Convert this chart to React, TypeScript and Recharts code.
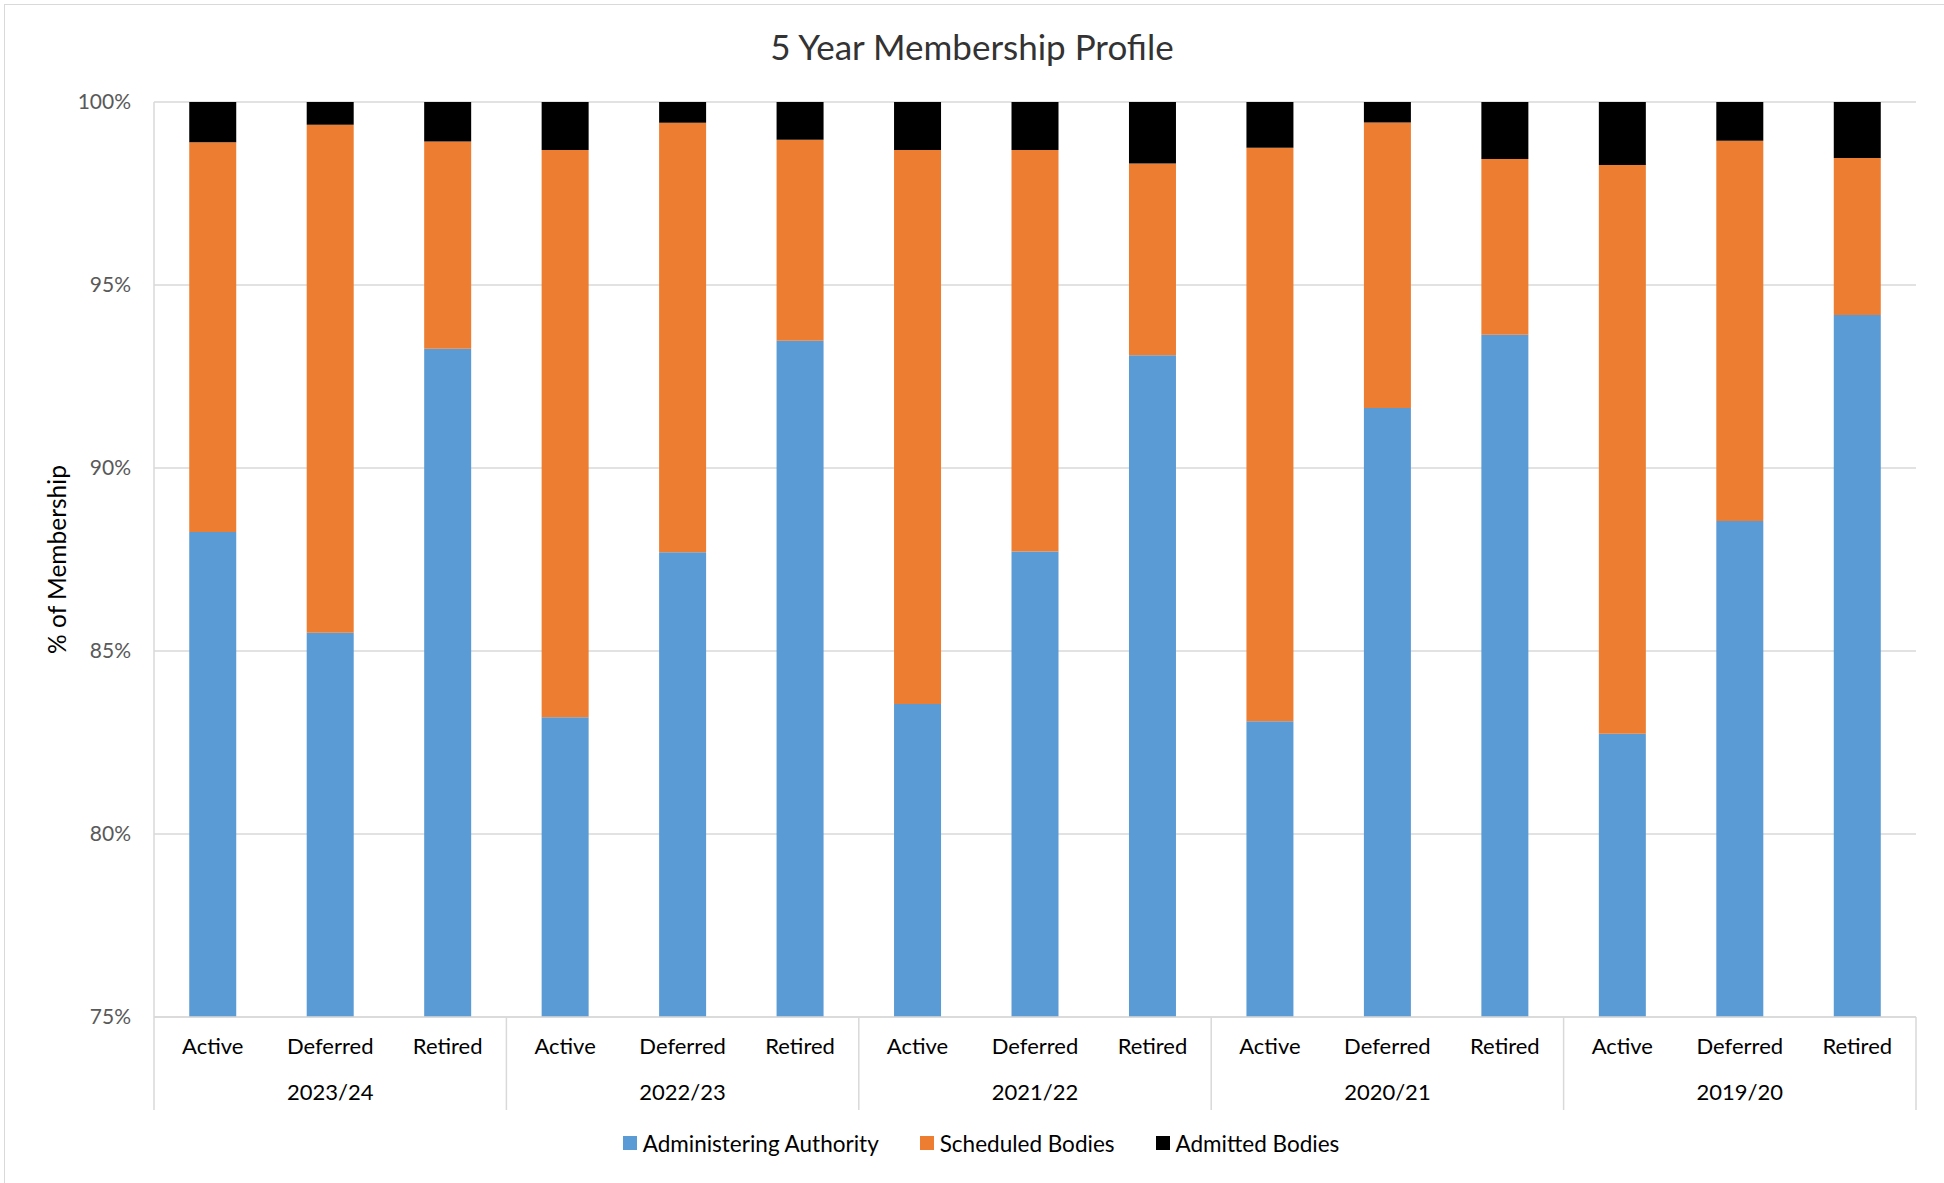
import { Bar, BarChart, CartesianGrid, Legend, XAxis, YAxis } from "recharts";

// Values (percent of membership per member type).
const years = ["2023/24", "2022/23", "2021/22", "2020/21", "2019/20"];
const memberTypes = ["Active", "Deferred", "Retired"];

const administeringAuthority = [
  88.25, 85.5, 93.26, 83.19, 87.7, 93.48, 83.55, 87.72, 93.08, 83.08, 91.64, 93.64, 82.74, 88.55, 94.18,
];
const scheduledBodies = [
  10.65, 13.88, 5.66, 15.5, 11.73, 5.49, 15.14, 10.97, 5.24, 15.67, 7.8, 4.8, 15.54, 10.39, 4.29,
];
const admittedBodies = [
  1.1, 0.62, 1.08, 1.31, 0.57, 1.03, 1.31, 1.31, 1.68, 1.25, 0.56, 1.56, 1.72, 1.06, 1.53,
];
const yTicks = [75, 80, 85, 90, 95, 100];
const seriesNames = ["Administering Authority", "Scheduled Bodies", "Admitted Bodies"];

const data = administeringAuthority.map((aa, i) => ({
  key: `${years[Math.floor(i / 3)]} ${memberTypes[i % 3]}`,
  type: memberTypes[i % 3],
  year: years[Math.floor(i / 3)],
  aa,
  sb: scheduledBodies[i],
  ab: admittedBodies[i],
}));

const WIDTH = 1944;
const HEIGHT = 1183;
const MARGIN = { top: 102, right: 28, bottom: 20, left: 0 };
const Y_AXIS_W = 154;
const BAND = (WIDTH - Y_AXIS_W - MARGIN.right) / data.length;
const GRID = "#d9d9d9";
const FONT = "Lato, 'Open Sans', sans-serif";

function GroupTick(props: any) {
  const { x, y, index } = props;
  const row = data[index];
  if (!row) return null;
  const pos = index % 3;
  return (
    <g>
      <text x={x} y={y + 28.5} textAnchor="middle" dominantBaseline="central" fontSize={22} fill="#000" fontFamily={FONT}>
        {row.type}
      </text>
      {pos === 1 && (
        <text x={x} y={y + 74.5} textAnchor="middle" dominantBaseline="central" fontSize={22} fill="#000" fontFamily={FONT}>
          {row.year}
        </text>
      )}
      {pos === 0 && (
        <line x1={x - BAND / 2} x2={x - BAND / 2} y1={y} y2={y + 93} stroke={GRID} strokeWidth={1.5} />
      )}
      {index === data.length - 1 && (
        <line x1={x + BAND / 2} x2={x + BAND / 2} y1={y} y2={y + 93} stroke={GRID} strokeWidth={1.5} />
      )}
    </g>
  );
}

function LegendContent({ payload }: any) {
  const items = [...(payload || [])].sort(
    (a: any, b: any) => seriesNames.indexOf(a.value) - seriesNames.indexOf(b.value)
  );
  return (
    <div
      style={{
        display: "flex",
        justifyContent: "center",
        alignItems: "center",
        height: 40,
        fontFamily: FONT,
        fontSize: 22.5,
        color: "#000",
      }}
    >
      {items.map((p: any, i: number) => (
        <span key={p.value} style={{ display: "flex", alignItems: "center", marginLeft: i ? 41 : 0 }}>
          <span style={{ width: 14, height: 14, background: p.color, marginRight: 6, display: "inline-block" }} />
          {p.value}
        </span>
      ))}
    </div>
  );
}

export default function App() {
  return (
    <div
      style={{
        position: "absolute",
        left: 0,
        top: 0,
        width: WIDTH,
        height: HEIGHT,
        background: "#fff",
        overflow: "hidden",
        fontFamily: FONT,
      }}
    >
      {/* chart frame, only left and top edges show in the reference */}
      <div
        style={{
          position: "absolute",
          left: 4,
          top: 4,
          width: WIDTH,
          height: HEIGHT,
          borderLeft: `1.5px solid ${GRID}`,
          borderTop: `1.5px solid ${GRID}`,
        }}
      />
      <div
        style={{
          position: "absolute",
          left: 0,
          top: 26,
          width: WIDTH,
          textAlign: "center",
          fontSize: 35,
          lineHeight: "40px",
          color: "#333",
        }}
      >
        5 Year Membership Profile
      </div>
      <BarChart width={WIDTH} height={HEIGHT} data={data} margin={MARGIN} barCategoryGap="30%">
        <CartesianGrid vertical={false} stroke={GRID} strokeWidth={1.5} />
        <XAxis
          dataKey="key"
          interval={0}
          height={106}
          tickSize={0}
          tickMargin={0}
          tickLine={false}
          axisLine={{ stroke: GRID, strokeWidth: 1.5 }}
          tick={<GroupTick />}
        />
        <YAxis
          width={Y_AXIS_W}
          domain={[75, 100]}
          ticks={yTicks}
          allowDataOverflow
          tickFormatter={(v: number) => `${v}%`}
          tickSize={0}
          tickMargin={23}
          tickLine={false}
          axisLine={{ stroke: GRID, strokeWidth: 1.5 }}
          tick={{ fontSize: 21, fill: "#595959", fontFamily: FONT }}
          label={{
            content: (p: any) => {
              const vb = p.viewBox || {};
              const cy = (vb.y ?? 102) + (vb.height ?? 915) / 2;
              return (
                <text
                  x={56}
                  y={cy}
                  transform={`rotate(-90 56 ${cy})`}
                  textAnchor="middle"
                  dominantBaseline="central"
                  fontSize={24.5}
                  fill="#000"
                  fontFamily={FONT}
                >
                  % of Membership
                </text>
              );
            },
          }}
        />
        <Legend verticalAlign="bottom" content={<LegendContent />} wrapperStyle={{ left: 0, width: WIDTH + 18 }} />
        <Bar dataKey="aa" name={seriesNames[0]} stackId="m" fill="#5b9bd5" isAnimationActive={false} />
        <Bar dataKey="sb" name={seriesNames[1]} stackId="m" fill="#ed7d31" isAnimationActive={false} />
        <Bar dataKey="ab" name={seriesNames[2]} stackId="m" fill="#000000" isAnimationActive={false} />
      </BarChart>
    </div>
  );
}
